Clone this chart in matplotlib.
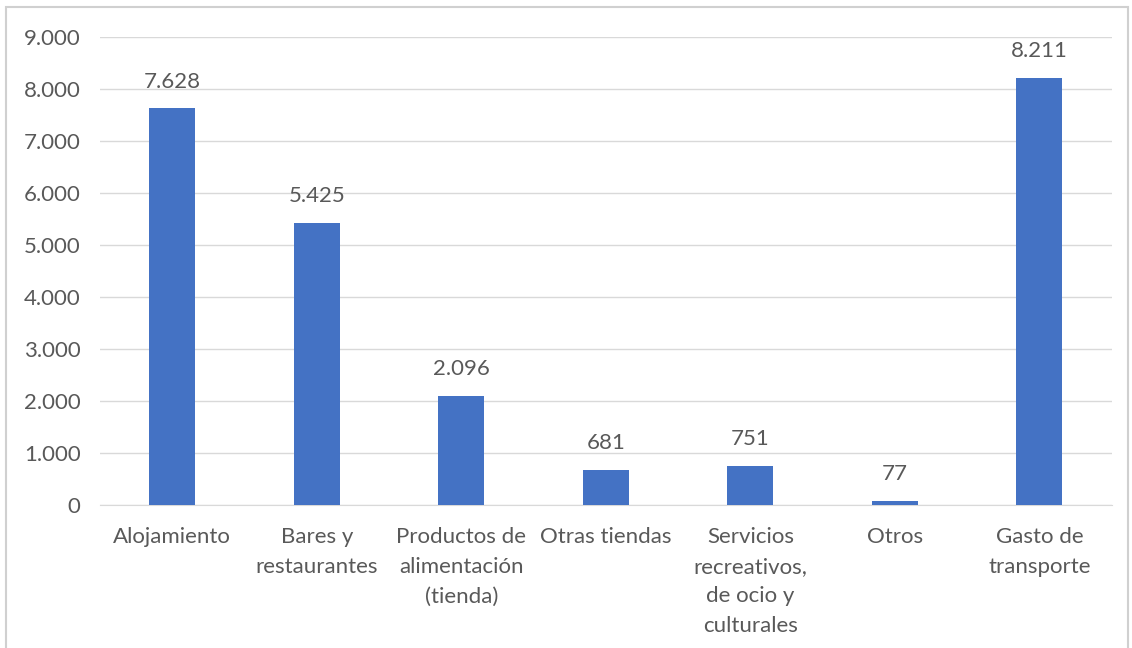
import matplotlib.pyplot as plt
from matplotlib.patches import Rectangle
from matplotlib.ticker import FuncFormatter

categorias = ['Alojamiento', 'Bares y\nrestaurantes', 'Productos de\nalimentación\n(tienda)',
              'Otras tiendas', 'Servicios\nrecreativos,\nde ocio y\nculturales', 'Otros',
              'Gasto de\ntransporte']
gasto = [7628, 5425, 2096, 681, 751, 77, 8211]

plt.rcParams['font.family'] = ['Lato', 'DejaVu Sans']
gris = '#595959'

fig = plt.figure(figsize=(11.32, 6.48), dpi=100)
ax = fig.add_axes([0.0883, 0.2207, 0.8937, 0.7223])

x = range(len(categorias))
bars = ax.bar(x, gasto, width=0.32, color='#4472C4', zorder=3)

def miles(v, pos=None):
    return f'{int(v):,}'.replace(',', '.')

# etiquetas de valor encima de cada barra
for b, v in zip(bars, gasto):
    ax.text(b.get_x() + b.get_width() / 2, v + 320, miles(v),
            ha='center', va='bottom', fontsize=16, color=gris)

ax.set_xlim(-0.5, len(categorias) - 0.5)
ax.set_ylim(0, 9000)
ax.set_yticks(range(0, 9001, 1000))
ax.yaxis.set_major_formatter(FuncFormatter(miles))
ax.set_xticks(list(x))
ax.set_xticklabels(categorias, fontsize=16, color=gris, linespacing=1.6, va='top')
ax.tick_params(axis='y', labelsize=16, labelcolor=gris, length=0, pad=14)
ax.tick_params(axis='x', length=0, pad=16)
ax.grid(axis='y', color='#D9D9D9', linewidth=1, zorder=0)
for s in ['top', 'right', 'left']:
    ax.spines[s].set_visible(False)
ax.spines['bottom'].set_color('#D9D9D9')

fig.patches.append(Rectangle((6 / 1132, -0.01), 1122 / 1132, 1 - 7 / 648 + 0.01,
                             transform=fig.transFigure, fill=False,
                             edgecolor='#D0D0D0', linewidth=1.5))

fig.savefig('out.png', dpi=100)
